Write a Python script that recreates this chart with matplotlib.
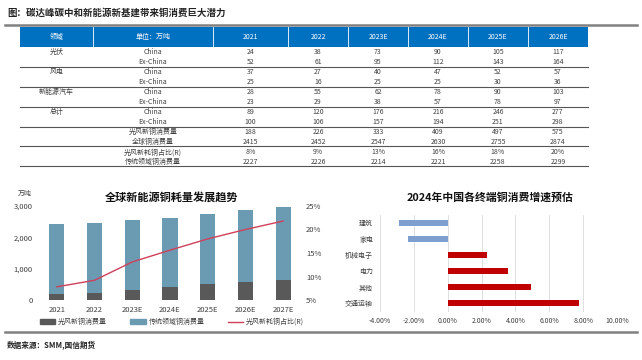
import numpy as np
import matplotlib
matplotlib.use("Agg")
import matplotlib.pyplot as plt
from matplotlib.patches import Rectangle, Patch
from matplotlib.lines import Line2D

plt.rcParams['font.family'] = ['Noto Sans CJK SC', 'DejaVu Sans']

# Table data
tbl_years = ['2021', '2022', '2023E', '2024E', '2025E', '2026E']
pv_china = [24, 38, 73, 90, 105, 117]
pv_ex = [52, 61, 95, 112, 143, 164]
wind_china = [37, 27, 40, 47, 52, 57]
wind_ex = [25, 16, 25, 25, 30, 36]
ev_china = [28, 55, 62, 78, 90, 103]
ev_ex = [23, 29, 38, 57, 78, 97]
tot_china = [89, 120, 176, 216, 246, 277]
tot_ex = [100, 106, 157, 194, 251, 298]
new_cu = [188, 226, 333, 409, 497, 575]
global_cu = [2415, 2452, 2547, 2630, 2755, 2874]
new_share = ['8%', '9%', '13%', '16%', '18%', '20%']
trad_cu = [2227, 2226, 2214, 2221, 2258, 2299]

# Left chart data
chart_years = ['2021', '2022', '2023E', '2024E', '2025E', '2026E', '2027E']
chart_new = [188, 226, 333, 409, 497, 575, 640]
chart_trad = [2227, 2226, 2214, 2221, 2258, 2299, 2320]
chart_share = [7.8, 9.2, 13.1, 15.6, 18.0, 20.0, 21.8]

# Right chart data
sectors = ['建筑', '家电', '机械电子', '电力', '其他', '交通运输']
growth = [-2.85, -2.35, 2.35, 3.55, 4.9, 7.75]

W, H = 642, 360
fig = plt.figure(figsize=(W / 100, H / 100), dpi=100)
bg = fig.add_axes([0, 0, 1, 1])
bg.set_xlim(0, W)
bg.set_ylim(H, 0)
bg.axis('off')

txt = '#404040'
bg.text(7, 13, '图：碳达峰碳中和新能源新基建带来铜消费巨大潜力', fontsize=6.8,
        fontweight='bold', color='#222222', va='center', ha='left')
bg.plot([5, 637], [24.5, 24.5], color='#808080', lw=1.8)

# ---- table ----
edges = [20, 93, 213, 288, 348, 408, 468, 528, 588]
centers = [(edges[i] + edges[i + 1]) / 2 for i in range(len(edges) - 1)]
bg.add_patch(Rectangle((edges[0], 27), edges[-1] - edges[0], 20, color='#0070c0', lw=0))
for e in edges[1:-1]:
    bg.plot([e, e], [27, 47], color='white', lw=0.6)
header = ['领域', '单位：万吨'] + tbl_years
for c, h in zip(centers, header):
    bg.text(c, 37, h, color='white', fontsize=5, ha='center', va='center')

groups = [('光伏', pv_china, pv_ex), ('风电', wind_china, wind_ex),
          ('新能源汽车', ev_china, ev_ex), ('总计', tot_china, tot_ex)]
row_y = 52.3
for name, ch, ex in groups:
    bg.text(centers[0], row_y, name, fontsize=5, color=txt, ha='center', va='center')
    for lab, vals, yy in [('China', ch, row_y), ('Ex-China', ex, row_y + 9.6)]:
        bg.text(centers[1], yy, lab, fontsize=5, color=txt, ha='center', va='center')
        for c, v in zip(centers[2:], vals):
            bg.text(c, yy, str(v), fontsize=5, color=txt, ha='center', va='center')
    bg.plot([edges[0], edges[-1]], [row_y + 14.4, row_y + 14.4], color='#555555', lw=0.8)
    row_y += 20

extra = [('光风新铜消费量', new_cu, '全球铜消费量', global_cu),
         ('光风新耗铜占比(R)', new_share, '传统领域铜消费量', trad_cu)]
for l1, v1, l2, v2 in extra:
    for lab, vals, yy in [(l1, v1, row_y), (l2, v2, row_y + 9.4)]:
        bg.text(centers[1], yy, lab, fontsize=5, color=txt, ha='center', va='center')
        for c, v in zip(centers[2:], vals):
            bg.text(c, yy, str(v), fontsize=5, color=txt, ha='center', va='center')
    bg.plot([edges[0], edges[-1]], [row_y + 14, row_y + 14], color='#555555', lw=0.8)
    row_y += 20

# ---- left chart ----
ax = fig.add_axes([38 / W, 60 / H, 264 / W, 94 / H])
x = np.arange(len(chart_years))
ax.bar(x, chart_new, width=0.4, color='#595959', zorder=2)
ax.bar(x, chart_trad, width=0.4, bottom=chart_new, color='#6b9bb3', zorder=2)
ax.set_ylim(0, 3000)
ax.set_xlim(-0.5, len(x) - 0.5)
ax.set_yticks([0, 1000, 2000, 3000])
ax.set_yticklabels(['0', '1,000', '2,000', '3,000'])
ax.set_xticks(x)
ax.set_xticklabels(chart_years)
ax.tick_params(labelsize=5.5, colors='#404040', length=0, pad=4)
for s in ax.spines.values():
    s.set_visible(False)
ax2 = ax.twinx()
ax2.plot(x, chart_share, color='#d0405a', lw=1, zorder=3)
ax2.set_ylim(5, 25)
ax2.set_yticks([5, 10, 15, 20, 25])
ax2.set_yticklabels(['5%', '10%', '15%', '20%', '25%'])
ax2.tick_params(labelsize=5.5, colors='#404040', length=0, pad=3)
for s in ax2.spines.values():
    s.set_visible(False)
bg.text(32, 194, '万吨', fontsize=5, color='#404040', ha='right', va='center')
bg.text(172, 197, '全球新能源铜耗量发展趋势', fontsize=8, fontweight='bold',
        color='#111111', ha='center', va='center')
handles = [Patch(color='#595959'), Patch(color='#6b9bb3'),
           Line2D([0], [0], color='#d0405a', lw=1)]
fig.legend(handles, ['光风新铜消费量', '传统领域铜消费量', '光风新耗铜占比(R)'],
           loc='center', bbox_to_anchor=(172 / W, 1 - 322 / H), ncol=3,
           frameon=False, fontsize=5, handlelength=2.2, handleheight=0.7,
           columnspacing=3.4, handletextpad=0.4, labelcolor='#404040')

# ---- right chart ----
rx = fig.add_axes([380 / W, 48 / H, 237 / W, 97 / H])
yy = np.arange(len(sectors))
colors = ['#7f9ed0' if g < 0 else '#c00000' for g in growth]
rx.barh(yy, growth, height=0.4, color=colors, zorder=2)
rx.set_xlim(-4, 10)
rx.set_ylim(len(sectors) - 0.45, -0.48)
rx.set_xticks(np.arange(-4, 10.1, 2))
rx.set_xticklabels(['%.2f%%' % v for v in np.arange(-4, 10.1, 2)])
rx.set_yticks(yy)
rx.set_yticklabels(sectors)
rx.grid(axis='x', color='#d9d9d9', lw=0.6, zorder=0)
rx.tick_params(labelsize=5, colors='#404040', length=0)
rx.tick_params(axis='y', pad=5)
for s in rx.spines.values():
    s.set_visible(False)
bg.text(490, 197, '2024年中国各终端铜消费增速预估', fontsize=7.8, fontweight='bold',
        color='#111111', ha='center', va='center')

# ---- footer ----
bg.plot([5, 637], [332, 332], color='#808080', lw=1.8)
bg.text(7, 345, '数据来源：SMM,国信期货', fontsize=5.5, fontweight='bold',
        color='#222222', ha='left', va='center')

fig.savefig('out.png', dpi=100)
